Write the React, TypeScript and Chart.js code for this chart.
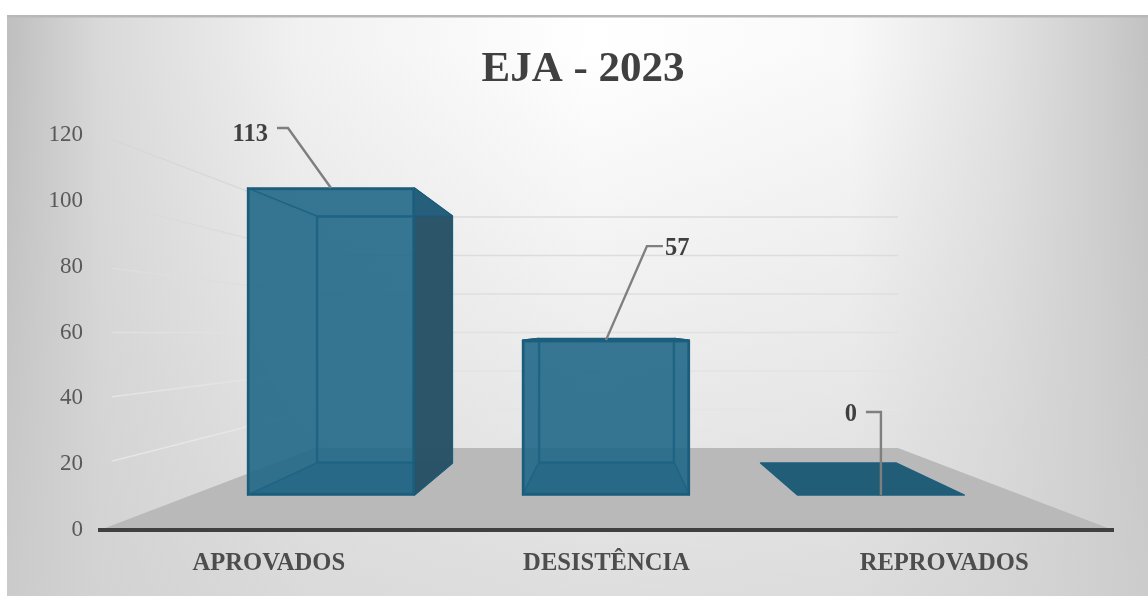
import React, { useEffect, useRef } from "react";
import { Chart, registerables } from "chart.js";

Chart.register(...registerables);

const categories = ["APROVADOS", "DESISTÊNCIA", "REPROVADOS"];
const values = [113, 57, 0];
const chartTitle = "EJA - 2023";
const SERIF = "'Liberation Serif', serif";
// leader line offsets from the top-centre of each bar's front face
const leaderElbowDx = [-43, 41, 0];
const leaderElbowDy = [-60, -94, -83];
const leaderEndDx = [-54, 57, -15];
const labelDy = [7, 3, 3];
const WALL_INSET = 215;

const sideFill = "rgba(30,100,135,0.58)";
const frontFill = "rgba(31,102,135,0.72)";
const bottomFill = "rgba(30,95,125,0.8)";
const outerFill = "rgba(42,82,102,0.96)";
const zeroFill = "#225d78";
const edge = "#1d5d7c";

function poly(ctx: CanvasRenderingContext2D, pts: number[][], fill: string) {
  ctx.beginPath();
  pts.forEach((p, i) => (i ? ctx.lineTo(p[0], p[1]) : ctx.moveTo(p[0], p[1])));
  ctx.closePath();
  ctx.fillStyle = fill;
  ctx.fill();
  ctx.strokeStyle = edge;
  ctx.lineWidth = 1.3;
  ctx.lineJoin = "round";
  ctx.stroke();
}

const scenePlugin = {
  id: "scene",
  beforeDraw(chart: any) {
    const { ctx, width, height, chartArea: a, scales } = chart;
    ctx.save();
    ctx.fillStyle = "#ffffff";
    ctx.fillRect(0, 0, width, height);

    const h = ctx.createLinearGradient(7, 0, 1148, 0);
    const stops: [number, string][] = [
      [7, "#bfbfbf"], [100, "#d9d9d9"], [300, "#f1f1f1"], [590, "#ffffff"],
      [850, "#f9f9f9"], [1000, "#e2e2e2"], [1100, "#cecece"], [1148, "#c2c2c2"],
    ];
    stops.forEach(([x, c]) => h.addColorStop((x - 7) / 1141, c));
    ctx.fillStyle = h;
    ctx.fillRect(7, 15, width - 7, height - 15);
    const v = ctx.createLinearGradient(0, 50, 0, 596);
    v.addColorStop(0, "rgba(208,208,208,0)");
    v.addColorStop(1, "rgba(208,208,208,0.7)");
    ctx.fillStyle = v;
    ctx.fillRect(7, 15, width - 7, height - 15);
    ctx.fillStyle = "#b8b8b8";
    ctx.fillRect(7, 15, width - 7, 2.5);

    // floor
    const wy0 = scales.yw.getPixelForValue(0);
    const wl = a.left + WALL_INSET;
    const wr = a.right - WALL_INSET;
    ctx.beginPath();
    ctx.moveTo(a.left, a.bottom);
    ctx.lineTo(wl, wy0);
    ctx.lineTo(wr, wy0);
    ctx.lineTo(a.right, a.bottom);
    ctx.closePath();
    ctx.fillStyle = "#b9b9b9";
    ctx.fill();

    // gridlines on side wall and back wall
    const lineColor = ctx.createLinearGradient(0, 135, 0, 465);
    lineColor.addColorStop(0, "#d6d6d6");
    lineColor.addColorStop(1, "#e8e8e8");
    ctx.strokeStyle = lineColor;
    ctx.lineWidth = 1.5;
    scales.y.ticks.forEach((t: any) => {
      if (t.value === 0) return;
      const y0 = scales.y.getPixelForValue(t.value);
      const y1 = scales.yw.getPixelForValue(t.value);
      ctx.beginPath();
      ctx.moveTo(a.left + 12, y0 + (12 * (y1 - y0)) / WALL_INSET);
      ctx.lineTo(wl, y1);
      ctx.lineTo(wr, y1);
      ctx.stroke();
    });
    ctx.restore();
  },
  afterDatasetDraw(chart: any, args: any) {
    if (args.index !== 1) return;
    const { ctx } = chart;
    const front = chart.getDatasetMeta(0).data;
    const back = chart.getDatasetMeta(1).data;
    ctx.save();
    front.forEach((f: any, i: number) => {
      const b = back[i];
      const fl = f.x - f.width / 2, fr = f.x + f.width / 2;
      const bl = b.x - b.width / 2, br = b.x + b.width / 2;
      const flat = f.base - f.y <= 0;
      poly(ctx, [[fl, f.base], [fr, f.base], [br, b.base], [bl, b.base]], flat ? zeroFill : bottomFill);
      if (!flat) {
        poly(ctx, [[fl, f.y], [bl, b.y], [bl, b.base], [fl, f.base]], bl < fl ? outerFill : sideFill);
        poly(ctx, [[fr, f.y], [br, b.y], [br, b.base], [fr, f.base]], br > fr ? outerFill : sideFill);
        poly(ctx, [[fl, f.y], [fr, f.y], [br, b.y], [bl, b.y]], sideFill);
      }
    });
    ctx.restore();
  },
  afterDatasetsDraw(chart: any) {
    const { ctx } = chart;
    const front = chart.getDatasetMeta(0).data;
    ctx.save();
    front.forEach((f: any, i: number) => {
      const ex = f.x + leaderElbowDx[i];
      const ey = f.y + leaderElbowDy[i];
      const tx = f.x + leaderEndDx[i];
      ctx.beginPath();
      ctx.moveTo(f.x, f.y);
      ctx.lineTo(ex, ey);
      ctx.lineTo(tx, ey);
      ctx.strokeStyle = "#7f7f7f";
      ctx.lineWidth = 2.4;
      ctx.stroke();
      const right = leaderEndDx[i] < leaderElbowDx[i];
      ctx.font = `bold 24.5px ${SERIF}`;
      ctx.fillStyle = "#404040";
      ctx.textAlign = right ? "right" : "left";
      ctx.textBaseline = "middle";
      ctx.fillText(String(values[i]), right ? tx - 9 : tx + 2, ey + labelDy[i]);
    });
    ctx.restore();
  },
};

export default function App() {
  const ref = useRef<HTMLCanvasElement>(null);
  useEffect(() => {
    const chart = new Chart(ref.current as HTMLCanvasElement, {
      type: "bar",
      data: {
        labels: categories,
        datasets: [
          {
            label: "front",
            data: values.map((v, i) => ({ x: i, y: v })) as any,
            xAxisID: "xFront",
            yAxisID: "yFront",
            order: 0,
            backgroundColor: frontFill,
            borderColor: edge,
            borderWidth: 2,
            borderSkipped: false,
            barThickness: 167,
            grouped: false,
          },
          {
            label: "back",
            data: values.map((v, i) => ({ x: i, y: v })) as any,
            xAxisID: "xBack",
            yAxisID: "yBack",
            order: 1,
            backgroundColor: sideFill,
            borderColor: edge,
            borderWidth: 1.5,
            borderSkipped: false,
            barThickness: 136,
            grouped: false,
          },
        ],
      },
      options: {
        animation: false,
        responsive: false,
        layout: { padding: { left: 18, right: 0, top: 0, bottom: 0 } },
        plugins: {
          legend: { display: false },
          tooltip: { enabled: false },
          title: {
            display: true,
            text: chartTitle,
            color: "#404040",
            font: { family: SERIF, size: 43, weight: "bold", lineHeight: 1.2 },
            padding: { top: 44, bottom: 39.4 },
          },
        },
        scales: {
          x: {
            type: "category",
            offset: true,
            grid: { display: false, drawTicks: false },
            border: { display: true, color: "#404040", width: 4 },
            ticks: {
              color: "#4d4d4d",
              font: { family: SERIF, size: 24.6, weight: "bold" },
              padding: 19,
              maxRotation: 0,
              autoSkip: false,
            },
            afterFit: (s: any) => { s.height = 66; },
          },
          y: {
            type: "linear",
            position: "left",
            min: 0,
            max: 120,
            grid: { display: false, drawTicks: false },
            border: { display: false },
            ticks: {
              stepSize: 20,
              color: "#595959",
              padding: 17,
              font: { family: SERIF, size: 23 },
            },
            afterFit: (s: any) => { s.width = 82; },
          },
          // empty axis that reserves the margin to the right of the plot
          yMargin: {
            type: "linear",
            position: "right",
            min: 0,
            max: 120,
            grid: { display: false, drawTicks: false },
            border: { display: false },
            ticks: { display: false },
            afterFit: (s: any) => { s.width = 35; },
          },
          xFront: { type: "linear", display: false, offset: false, min: -0.84, max: 2.844 },
          yFront: { type: "linear", display: false, min: -12.88, max: 132.5 },
          xBack: { type: "linear", display: false, offset: false, min: -1.2815, max: 3.2815 },
          yBack: { type: "linear", display: false, min: -30.65, max: 150 },
          yw: { type: "linear", display: false, min: -42.6, max: 162.6 },
        },
      } as any,
      plugins: [scenePlugin as any],
    });
    return () => chart.destroy();
  }, []);
  return (
    <div style={{ position: "fixed", left: 0, top: 0, width: 1148, height: 596 }}>
      <canvas ref={ref} width={1148} height={596} style={{ display: "block", filter: "blur(0.35px)" }} />
    </div>
  );
}
